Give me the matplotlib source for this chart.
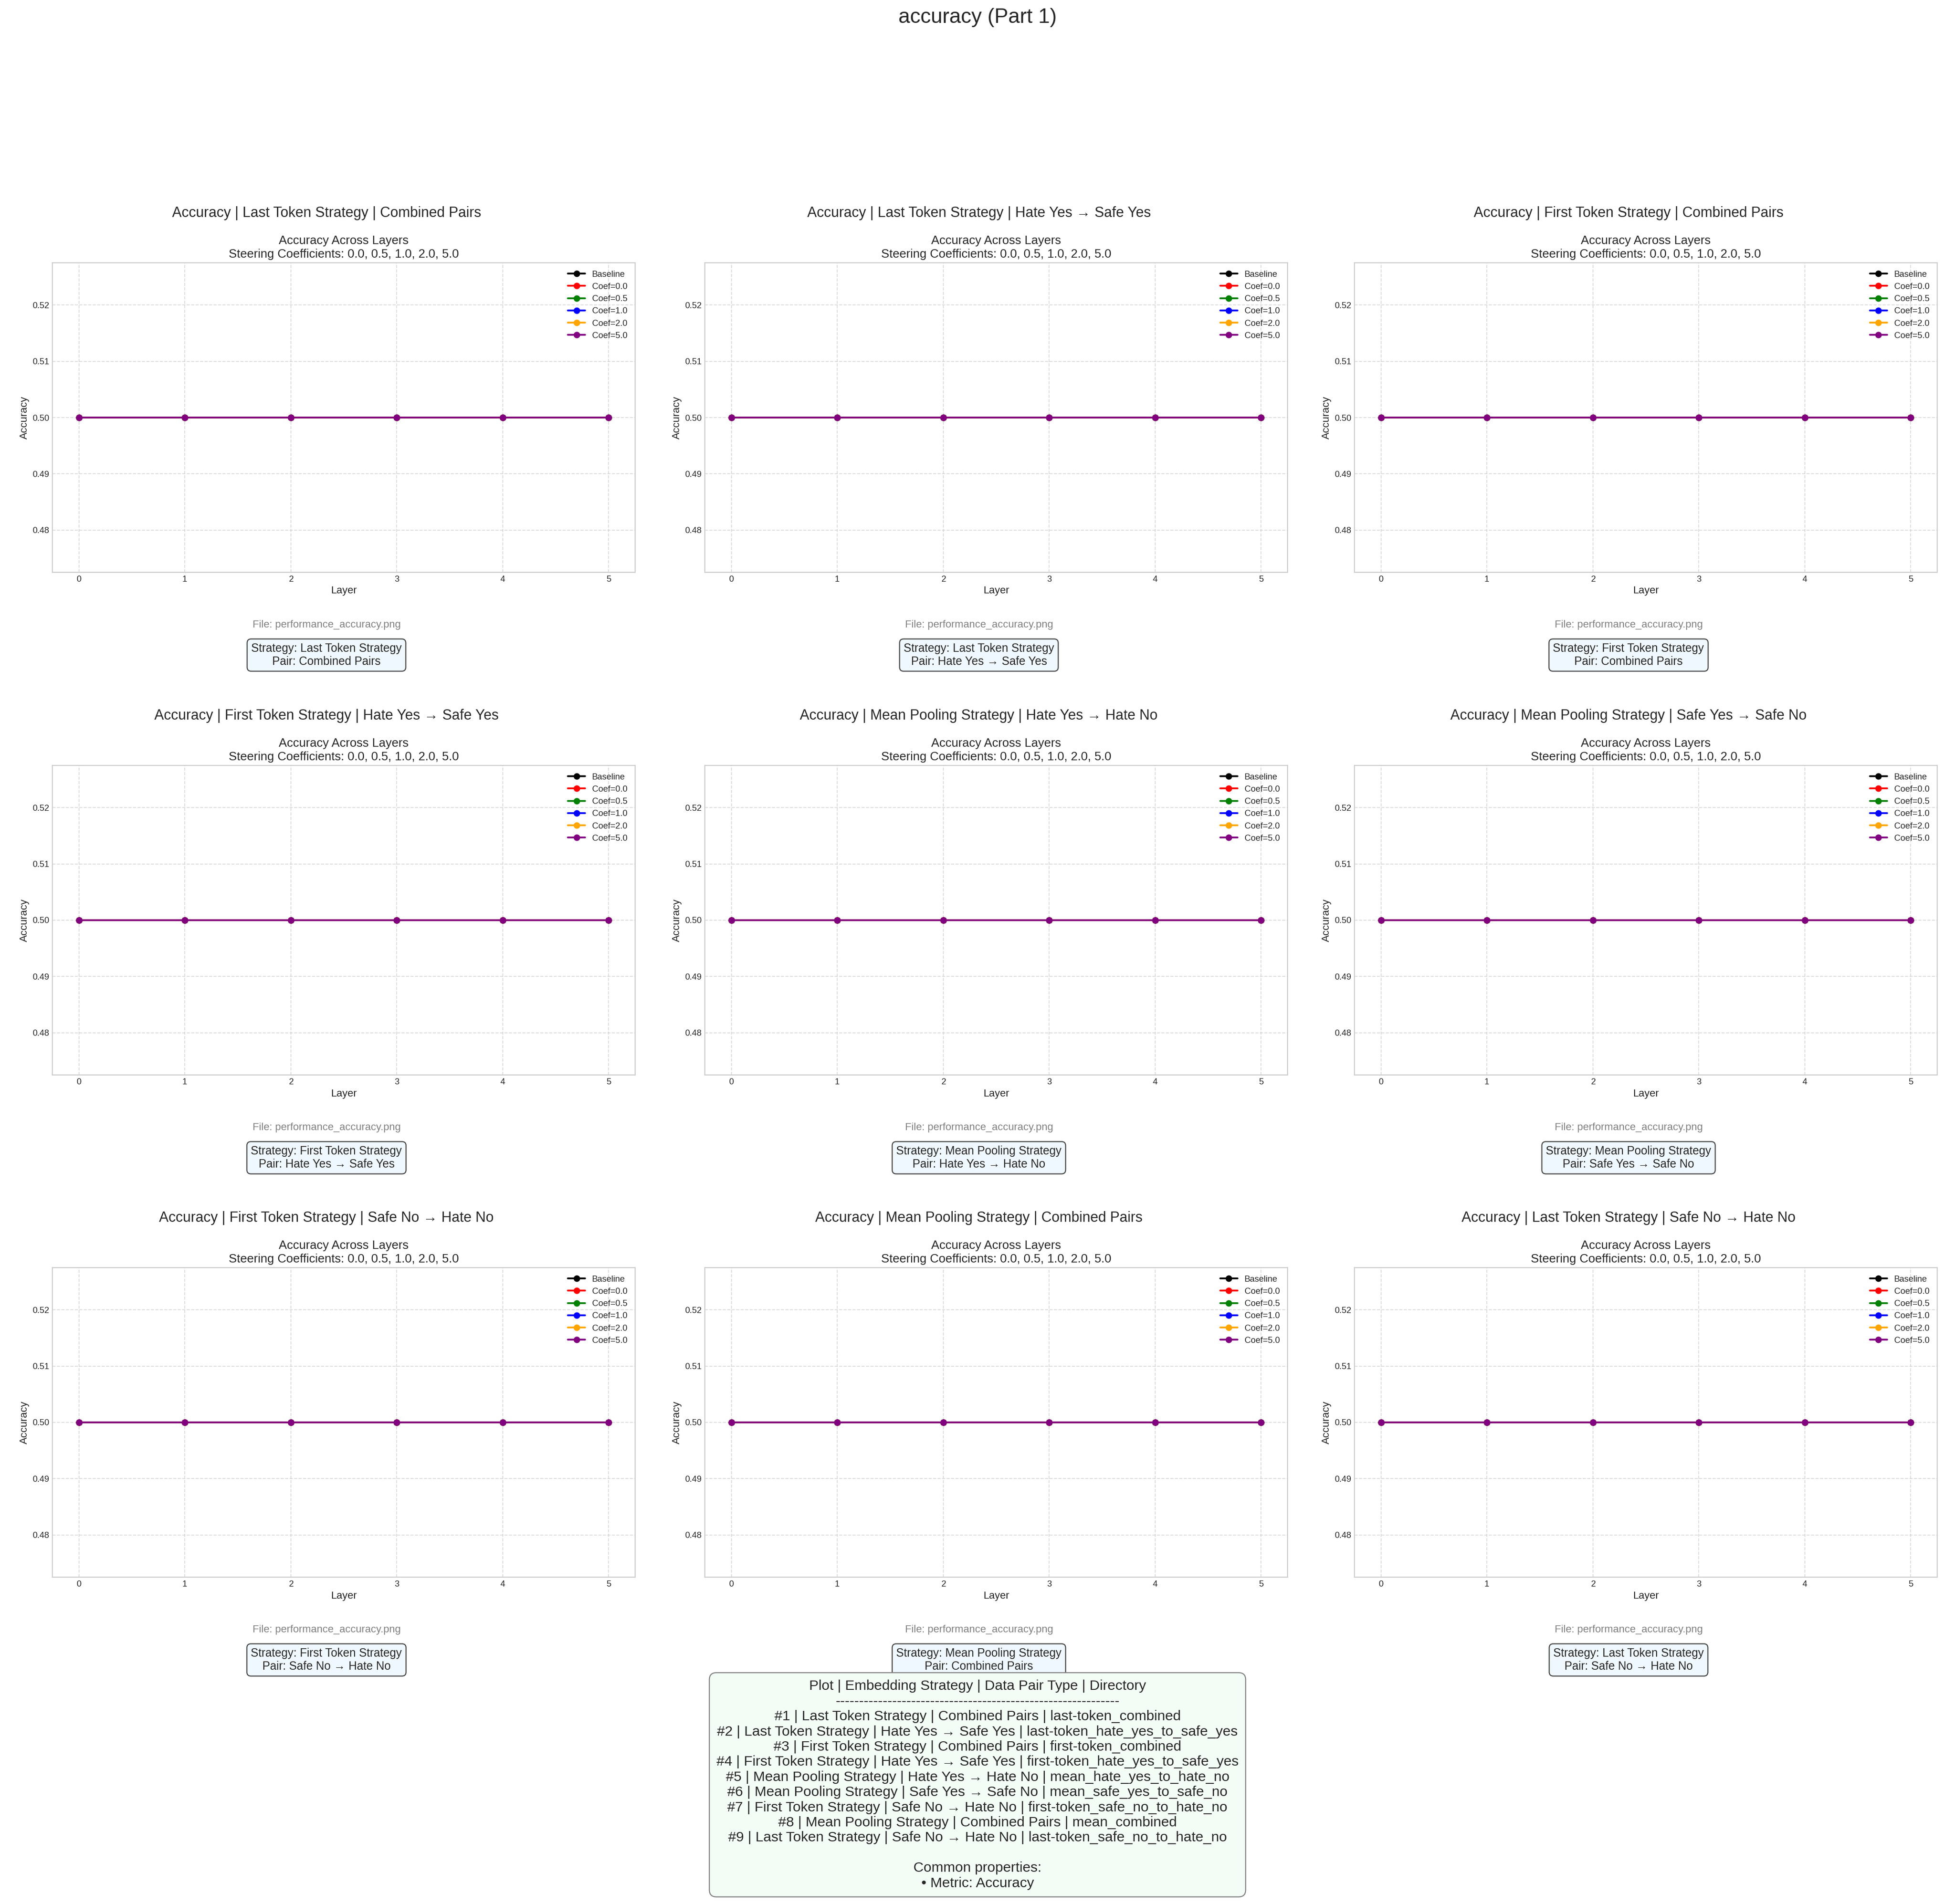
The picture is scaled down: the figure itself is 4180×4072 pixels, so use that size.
import numpy as np
import matplotlib
matplotlib.use('Agg')
import matplotlib.pyplot as plt

plt.style.use('seaborn-v0_8-whitegrid')
plt.rcParams['font.family'] = ['Liberation Sans', 'DejaVu Sans']
plt.rcParams['text.color'] = '#262626'
plt.rcParams['axes.labelcolor'] = '#262626'
plt.rcParams['xtick.color'] = '#262626'
plt.rcParams['ytick.color'] = '#262626'

# data
layers = [0, 1, 2, 3, 4, 5]
series_labels = ['Baseline', 'Coef=0.0', 'Coef=0.5', 'Coef=1.0', 'Coef=2.0', 'Coef=5.0']
series_colors = ['black', 'red', 'green', 'blue', 'orange', 'purple']
baseline_acc = [0.5, 0.5, 0.5, 0.5, 0.5, 0.5]
coef00_acc = [0.5, 0.5, 0.5, 0.5, 0.5, 0.5]
coef05_acc = [0.5, 0.5, 0.5, 0.5, 0.5, 0.5]
coef10_acc = [0.5, 0.5, 0.5, 0.5, 0.5, 0.5]
coef20_acc = [0.5, 0.5, 0.5, 0.5, 0.5, 0.5]
coef50_acc = [0.5, 0.5, 0.5, 0.5, 0.5, 0.5]
all_series = [baseline_acc, coef00_acc, coef05_acc, coef10_acc, coef20_acc, coef50_acc]

strategies = ['Last Token Strategy', 'Last Token Strategy', 'First Token Strategy',
              'First Token Strategy', 'Mean Pooling Strategy', 'Mean Pooling Strategy',
              'First Token Strategy', 'Mean Pooling Strategy', 'Last Token Strategy']
pairs = ['Combined Pairs', 'Hate Yes \u2192 Safe Yes', 'Combined Pairs',
         'Hate Yes \u2192 Safe Yes', 'Hate Yes \u2192 Hate No', 'Safe Yes \u2192 Safe No',
         'Safe No \u2192 Hate No', 'Combined Pairs', 'Safe No \u2192 Hate No']
directories = ['last-token_combined', 'last-token_hate_yes_to_safe_yes', 'first-token_combined',
               'first-token_hate_yes_to_safe_yes', 'mean_hate_yes_to_hate_no',
               'mean_safe_yes_to_safe_no', 'first-token_safe_no_to_hate_no',
               'mean_combined', 'last-token_safe_no_to_hate_no']

W, H = 4180, 4072
fig = plt.figure(figsize=(W / 100, H / 100), dpi=100)

col_left = [112, 1507, 2896]
row_top = [562, 1637, 2711]
ax_w, ax_h = 1246, 662

fig.text(0.5, 1 - 37 / H, 'accuracy (Part 1)', ha='center', va='center', fontsize=32)

for i in range(9):
    r, c = divmod(i, 3)
    L, T = col_left[c], row_top[r]
    ax = fig.add_axes([L / W, 1 - (T + ax_h) / H, ax_w / W, ax_h / H])
    for vals, lab, col in zip(all_series, series_labels, series_colors):
        ax.plot(layers, vals, marker='o', color=col, label=lab, linewidth=2.7, markersize=9)
    ax.set_title('Accuracy Across Layers\nSteering Coefficients: 0.0, 0.5, 1.0, 2.0, 5.0',
                 fontsize=18.7, pad=8, linespacing=1.25)
    ax.set_xlabel('Layer', fontsize=16)
    ax.set_ylabel('Accuracy', fontsize=16)
    ax.tick_params(labelsize=13.3, pad=5)
    ax.grid(True, linestyle='--', color='#cccccc', linewidth=1.3, alpha=0.7)
    for s in ax.spines.values():
        s.set_color('#cccccc')
        s.set_linewidth(1.6)
    ax.legend(loc='upper right', fontsize=13.3, frameon=False)

    cx = (L + ax_w / 2 - 37) / W
    B = T + ax_h
    fig.text(cx, 1 - (T - 106) / H, f'Accuracy | {strategies[i]} | {pairs[i]}',
             ha='center', va='center', fontsize=22)
    fig.text(cx, 1 - (B + 118) / H, 'File: performance_accuracy.png',
             ha='center', va='baseline', fontsize=16, color='gray')
    fig.text(cx, 1 - (B + 177) / H, f'Strategy: {strategies[i]}\nPair: {pairs[i]}',
             ha='center', va='center', fontsize=17.7,
             bbox=dict(boxstyle='round,pad=0.35', facecolor='aliceblue',
                       edgecolor='#444444', linewidth=1.6))

lines = ['Plot | Embedding Strategy | Data Pair Type | Directory', '-' * 60]
for i in range(9):
    lines.append(f'#{i + 1} | {strategies[i]} | {pairs[i]} | {directories[i]}')
lines += ['', 'Common properties:', '\u2022 Metric: Accuracy']
fig.text(0.5, 1 - 3817 / H, '\n'.join(lines), ha='center', va='center', fontsize=21.8,
         zorder=10,
         bbox=dict(boxstyle='round,pad=0.5', facecolor='#f3fdf6',
                   edgecolor='gray', linewidth=1.6))

fig.savefig('out.png', dpi=100)
